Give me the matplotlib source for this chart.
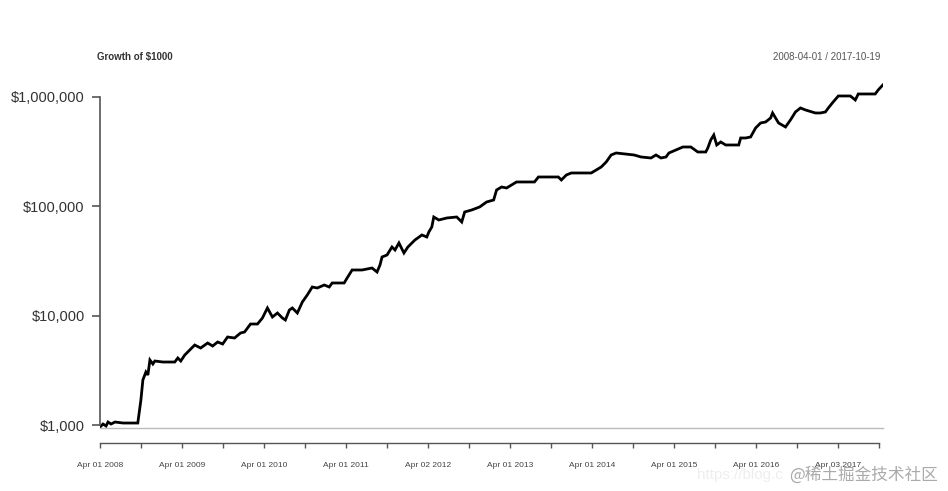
import numpy as np
import pandas as pd
import matplotlib
matplotlib.use('Agg')
import matplotlib.pyplot as plt
import matplotlib.ticker as mticker
import matplotlib.dates as mdates

plt.rcParams['font.family'] = ['Liberation Sans', 'Noto Sans CJK SC', 'DejaVu Sans']

# Growth of $1000 (decimal year, dollar value)
years = [
    2008.250, 2008.286, 2008.323, 2008.347, 2008.384, 2008.432, 2008.530, 2008.710,
    2008.748, 2008.772, 2008.809, 2008.833, 2008.858, 2008.894, 2008.918, 2009.015,
    2009.161, 2009.198, 2009.234, 2009.283, 2009.344, 2009.404, 2009.477, 2009.562,
    2009.623, 2009.684, 2009.745, 2009.805, 2009.890, 2009.963, 2010.012, 2010.085,
    2010.170, 2010.230, 2010.291, 2010.352, 2010.413, 2010.474, 2010.510, 2010.559,
    2010.595, 2010.656, 2010.717, 2010.777, 2010.838, 2010.899, 2010.984, 2011.045,
    2011.081, 2011.227, 2011.263, 2011.324, 2011.446, 2011.567, 2011.628, 2011.664,
    2011.689, 2011.750, 2011.810, 2011.847, 2011.895, 2011.956, 2012.004, 2012.090,
    2012.175, 2012.235, 2012.260, 2012.296, 2012.320, 2012.381, 2012.479, 2012.600,
    2012.661, 2012.697, 2012.782, 2012.879, 2012.964, 2013.050, 2013.086, 2013.147,
    2013.208, 2013.268, 2013.329, 2013.548, 2013.596, 2013.839, 2013.876, 2013.937,
    2013.997, 2014.240, 2014.301, 2014.362, 2014.423, 2014.483, 2014.544, 2014.763,
    2014.848, 2014.969, 2015.030, 2015.091, 2015.152, 2015.188, 2015.273, 2015.358,
    2015.455, 2015.540, 2015.637, 2015.662, 2015.698, 2015.735, 2015.771, 2015.820,
    2015.880, 2016.039, 2016.063, 2016.124, 2016.184, 2016.245, 2016.306, 2016.367,
    2016.428, 2016.452, 2016.488, 2016.525, 2016.610, 2016.670, 2016.731, 2016.792,
    2016.853, 2016.974, 2017.035, 2017.096, 2017.132, 2017.181, 2017.254, 2017.400,
    2017.461, 2017.497, 2017.704, 2017.740, 2017.797,
]
growth = [
    958, 1021, 979, 1065, 1021, 1065, 1043, 1043,
    1693, 2580, 3054, 2866, 3931, 3614, 3849, 3769,
    3769, 4102, 3849, 4368, 4853, 5391, 5061, 5623,
    5279, 5743, 5507, 6380, 6248, 6941, 7090, 8390,
    8390, 9521, 11755, 9723, 10578, 9521, 9128, 11269,
    11755, 10578, 13336, 15457, 18291, 17910, 19075, 18291,
    19904, 19904, 22107, 26169, 26169, 27290, 25082, 29076,
    34404, 35889, 42476, 39873, 46206, 37430, 42476, 49218,
    54681, 52427, 58271, 64714, 79898, 74989, 78234, 79898,
    71923, 88775, 92572, 98625, 109566, 114290, 141090, 150240,
    147150, 156710, 167020, 167020, 185500, 185500, 174120, 193500,
    201840, 201840, 215040, 228930, 254330, 294840, 307510, 294840,
    282670, 276750, 294840, 276750, 282670, 307510, 327590, 348920,
    348920, 314060, 314060, 341650, 404440, 449330, 363910, 387710,
    363910, 363910, 421790, 421790, 430740, 520560, 578400, 590700,
    642700, 714100, 642700, 578400, 531700, 616300, 729400, 793500,
    760700, 714100, 714100, 729400, 793500, 881600, 1021600, 1021600,
    938900, 1065400, 1065400, 1159000, 1287800,
]

y_ticks = [1000, 10000, 100000, 1000000]
label_dates = ['2008-04-01', '2009-04-01', '2010-04-01', '2011-04-01', '2012-04-02',
               '2013-04-01', '2014-04-01', '2015-04-01', '2016-04-01', '2017-04-03']
half_dates = ['2008-10-01', '2009-10-01', '2010-10-01', '2011-10-03', '2012-10-01',
              '2013-10-01', '2014-10-01', '2015-10-01', '2016-10-03', '2017-10-02']
start_date = '2008-04-01'
end_date = '2017-10-19'


def to_dates(yrs):
    yrs = np.asarray(yrs)
    base = pd.Timestamp('2008-01-01')
    return base + pd.to_timedelta((yrs - 2008.0) * 365.25, unit='D')


dates = to_dates(years)

fig = plt.figure(figsize=(9.48, 4.91), dpi=100)
ax = fig.add_axes([100 / 948, 1 - 428 / 491, (883 - 100) / 948, (428 - 80) / 491])

ax.plot(dates, growth, color='black', lw=2.0, solid_joinstyle='miter')
ax.set_yscale('log')
ax.set_ylim(939, 1430000)
ax.set_xlim(pd.Timestamp(start_date), pd.Timestamp(end_date))

# y axis
ax.set_yticks(y_ticks)
ax.yaxis.set_minor_locator(mticker.NullLocator())
ax.yaxis.set_major_formatter(mticker.FuncFormatter(lambda v, p: '${:,.0f}'.format(v)))
ax.tick_params(axis='y', length=6, width=1.2, color='#555555', labelsize=10.5,
               labelcolor='#333333', pad=5)
ax.spines['left'].set_bounds(y_ticks[0], y_ticks[-1])
ax.spines['left'].set_color('#555555')
ax.spines['left'].set_linewidth(1.2)

# x axis
all_ticks = sorted(pd.to_datetime(label_dates + half_dates))
ax.set_xticks(all_ticks)
lab_set = set(pd.to_datetime(label_dates))
ax.set_xticklabels([d.strftime('%b %d %Y') if d in lab_set else '' for d in all_ticks])
ax.tick_params(axis='x', length=3.6, width=1.0, color='#555555', labelsize=6,
               labelcolor='#444444', pad=10)
ax.spines['bottom'].set_position(('outward', 10.8))
ax.spines['bottom'].set_bounds(mdates.date2num(all_ticks[0]), mdates.date2num(all_ticks[-1]))
ax.spines['bottom'].set_color('#555555')
ax.spines['bottom'].set_linewidth(1.0)

ax.spines['top'].set_visible(False)
ax.spines['right'].set_visible(False)

# light baseline under the plot region
ax.plot([0, 1], [0, 0], transform=ax.transAxes, color='#bbbbbb', lw=1.0, clip_on=False)

fig.text(97 / 948, 1 - 57 / 491, 'Growth of $1000', ha='left', va='center',
         fontsize=7, fontweight='bold', color='#333333')
fig.text(880 / 948, 1 - 57 / 491, start_date + ' / ' + end_date, ha='right', va='center',
         fontsize=7, color='#555555')

# site watermark
fig.text(697 / 948, 1 - 475 / 491, 'https://blog.c', ha='left', va='center',
         fontsize=11, color='#eeeeee')
fig.text(938 / 948, 1 - 475 / 491, '@稀土掘金技术社区', ha='right', va='center',
         fontsize=12, color='#aaaaaa', family=['Noto Sans CJK SC', 'DejaVu Sans'])

fig.savefig('out.png', dpi=100, facecolor='white')
